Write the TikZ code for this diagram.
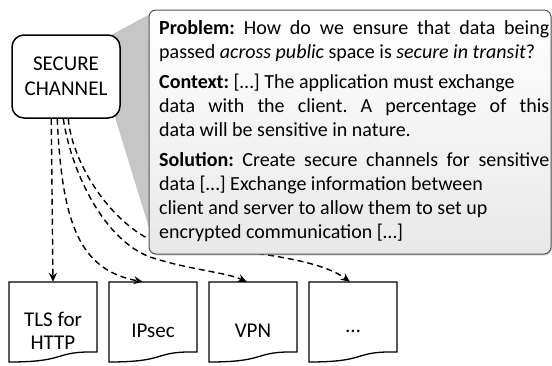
\documentclass[tikz,border=0pt]{standalone}
\usepackage{fontspec}
\setmainfont{Carlito}
\usetikzlibrary{arrows.meta,calc,shadows}

% document symbol with a wavy lower edge, drawn round a node
\newcommand{\docshape}[1]{%
  \draw[docline] ($(#1.center)+(44,-40)$) -- ($(#1.center)+(-44,-40)$)
    -- ($(#1.center)+(-44,40)$)
    .. controls ($(#1.center)+(16,40)$) and ($(#1.center)+(-1,29)$) ..
    ($(#1.center)+(44,30)$) -- cycle;}

\begin{document}
\begin{tikzpicture}[x=1pt,y=-1pt,
  secbox/.style={draw, line width=1.5pt, rounded corners=12pt, fill=white,
    minimum width=108pt, minimum height=83pt, align=center, inner sep=0pt,
    font=\fontsize{21}{25}\selectfont},
  callout/.style={draw=gray!65!black, line width=1pt, rounded corners=7pt,
    top color=white, bottom color=gray!18,
    drop shadow={opacity=0.3, shadow xshift=1pt, shadow yshift=-1.5pt},
    minimum width=402pt, minimum height=244pt, inner sep=0pt},
  infotext/.style={text width=390pt, align=justify, inner sep=0pt,
    font=\fontsize{20}{24}\selectfont},
  wedge/.style={fill=gray!45},
  docarea/.style={minimum width=88pt, minimum height=80pt, inner sep=0pt},
  doctext/.style={align=center, inner sep=0pt, font=\fontsize{21}{23}\selectfont},
  docline/.style={line width=1.3pt, fill=white},
  conn/.style={line width=1.4pt, dash pattern=on 6pt off 4pt,
    -{Stealth[length=9pt,width=8pt]}},
]
\useasboundingbox (0,0) rectangle (552,365);

% pointer from the pattern box to its description
\fill[wedge] (105,38.3) -- (150,14) -- (150,231) -- (110,101) -- cycle;

\node[secbox] (sec) at (66,76.5) {SECURE\\CHANNEL};

% implementation documents
\node[docarea] (d1) at (53,322) {};
\node[docarea] (d2) at (153,322) {};
\node[docarea] (d3) at (253,322) {};
\node[docarea] (d4) at (353,322) {};
\docshape{d1}\docshape{d2}\docshape{d3}\docshape{d4}
\node[doctext] (t1) at (53,331) {TLS for\\HTTP};
\node[doctext] (t2) at (153,331) {IPsec};
\node[doctext] (t3) at (253,331) {VPN};
\node[doctext] (t4) at (353,331) {…};

% dashed connectors
\coordinate (via3) at (150,257);
\coordinate (via4) at (147,238);
\draw[conn] ([xshift=40pt]sec.south west) -- (d1.north);
\draw[conn] ([xshift=46pt]sec.south west)
  .. controls (62,225) and (80,270) .. ([xshift=34pt]d2.north west);
\draw[conn] ([xshift=52pt]sec.south west)
  .. controls (72,175) and (105,240) .. (via3)
  .. controls (190,270) and (225,272) .. ([xshift=38pt]d3.north west);
\draw[conn] ([xshift=57pt]sec.south west)
  .. controls (72,160) and (105,215) .. (via4)
  .. controls (200,250) and (310,252) .. ([xshift=41pt]d4.north west);

% description of the pattern
\node[callout] (info) at (350,132) {};
\node[infotext, anchor=north west] (infotext) at (159,20) {%
\frenchspacing\setlength{\parskip}{6pt}%
\textbf{Problem:} How do we ensure that data being\linebreak
passed \textit{across public} space is \textit{secure in transit}?\par
\textbf{Context:} […] The application must exchange\newline
data with the client. A percentage of this\linebreak
data will be sensitive in nature.\par
\textbf{Solution:} Create secure channels for sensitive\linebreak
data […] Exchange information between\newline
client and server to allow them to set up\newline
encrypted communication […]\par};
\end{tikzpicture}
\end{document}
